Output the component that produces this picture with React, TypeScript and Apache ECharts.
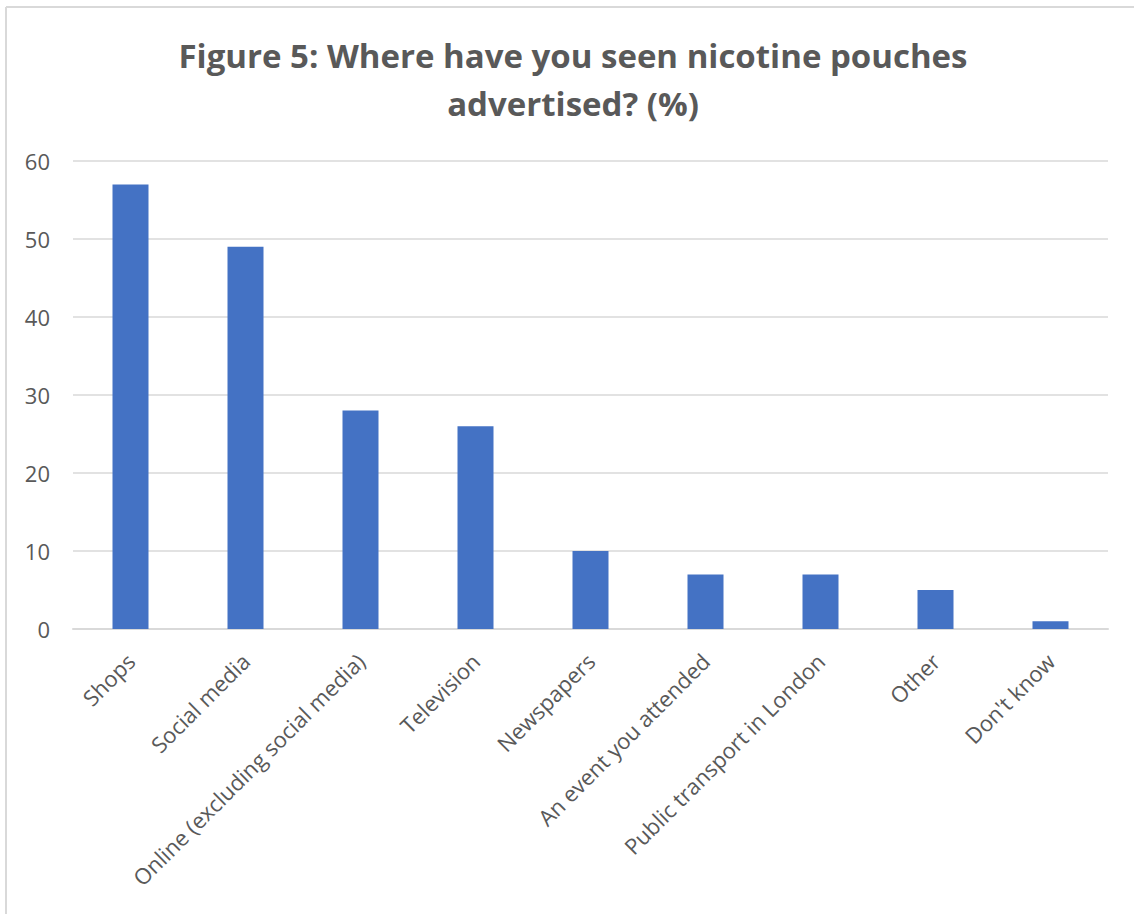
import React, { useEffect, useRef } from "react";
import * as echarts from "echarts";

const categories = [
  "Shops",
  "Social media",
  "Online (excluding social media)",
  "Television",
  "Newspapers",
  "An event you attended",
  "Public transport in London",
  "Other",
  "Don't know",
];
const values = [57, 49, 28, 26, 10, 7, 7, 5, 1];
const yTicks = { min: 0, max: 60, interval: 10 };
const titleLines = ["Figure 5: Where have you seen nicotine pouches", "advertised? (%)"];

const FONT = "'Open Sans', sans-serif";
const TEXT_COLOR = "#595959";

export default function App() {
  const ref = useRef<HTMLDivElement>(null);
  useEffect(() => {
    if (!ref.current) return;
    const chart = echarts.init(ref.current, undefined, { renderer: "svg" });
    chart.setOption({
      animation: false,
      backgroundColor: "#ffffff",
      graphic: [
        { type: "line", shape: { x1: 6, y1: 7, x2: 1134, y2: 7 }, style: { stroke: "#d9d9d9", lineWidth: 2 } },
        { type: "line", shape: { x1: 6, y1: 7, x2: 6, y2: 914 }, style: { stroke: "#d9d9d9", lineWidth: 2 } },
        ...titleLines.map((t, i) => ({
          type: "text",
          x: 573,
          y: 55 + i * 48,
          style: {
            text: t,
            fontFamily: FONT,
            fontSize: 33,
            fontWeight: "bold",
            fill: TEXT_COLOR,
            textAlign: "center",
            textVerticalAlign: "middle",
          },
        })),
      ],
      grid: { left: 73, right: 26, top: 161, bottom: 285, containLabel: false },
      xAxis: {
        type: "category",
        data: categories,
        axisLine: { show: true, lineStyle: { color: "#d9d9d9", width: 2 } },
        axisTick: { show: false },
        axisLabel: {
          rotate: 45,
          interval: 0,
          fontFamily: FONT,
          fontSize: 22,
          color: TEXT_COLOR,
          margin: 28,
        },
      },
      yAxis: {
        type: "value",
        min: yTicks.min,
        max: yTicks.max,
        interval: yTicks.interval,
        axisLine: { show: false },
        axisTick: { show: false },
        splitLine: { lineStyle: { color: "#d9d9d9", width: 1.5 } },
        axisLabel: {
          fontFamily: FONT,
          fontSize: 22,
          color: TEXT_COLOR,
          margin: 23,
        },
      },
      series: [
        {
          type: "bar",
          data: values,
          barWidth: 36,
          itemStyle: { color: "#4472c4" },
        },
      ],
    });
    return () => chart.dispose();
  }, []);
  return (
    <div
      ref={ref}
      style={{ position: "fixed", left: 0, top: 0, width: 1134, height: 914 }}
    />
  );
}
